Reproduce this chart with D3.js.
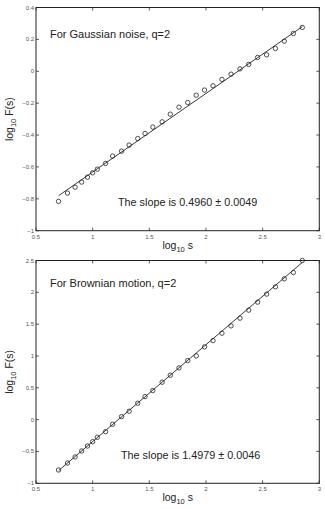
<!DOCTYPE html>
<html>
<head>
<meta charset="utf-8">
<script src="https://cdn.jsdelivr.net/npm/d3@7/dist/d3.min.js"></script>
<style>
  html, body { margin: 0; padding: 0; background: #fff; }
  svg { display: block; font-family: "Liberation Sans", Arial, sans-serif; }
  .tick-label { font-size: 6px; fill: #555; }
</style>
</head>
<body>
<svg id="chart" width="325" height="509"></svg>
<script>
// log10 s, shared by both panels
const logS = [0.699, 0.778, 0.845, 0.903, 0.954, 1.000, 1.041, 1.114, 1.176, 1.255,
              1.322, 1.398, 1.462, 1.531, 1.613, 1.685, 1.762, 1.839, 1.914, 1.987,
              2.062, 2.141, 2.221, 2.300, 2.377, 2.456, 2.535, 2.613, 2.691, 2.771, 2.850];

// log10 F(s), Gaussian noise
const gaussF = [-0.816, -0.764, -0.727, -0.695, -0.664, -0.637, -0.614, -0.578, -0.532, -0.501,
                -0.463, -0.422, -0.390, -0.350, -0.317, -0.269, -0.225, -0.196, -0.150, -0.118,
                -0.091, -0.051, -0.018, 0.015, 0.043, 0.087, 0.103, 0.143, 0.189, 0.237, 0.275];

// log10 F(s), Brownian motion
const brownF = [-0.791, -0.681, -0.586, -0.492, -0.414, -0.346, -0.277, -0.189, -0.072, 0.047,
                0.132, 0.258, 0.362, 0.456, 0.588, 0.698, 0.813, 0.928, 1.002, 1.143,
                1.242, 1.358, 1.473, 1.594, 1.720, 1.846, 1.972, 2.087, 2.212, 2.311, 2.500];

// fitted lines (end points)
const gaussFit = [[0.70, -0.780], [2.85, 0.280]];
const brownFit = [[0.70, -0.800], [2.85, 2.470]];

const xTicks = [0.5, 1, 1.5, 2, 2.5, 3];
const gaussYTicks = [-1, -0.8, -0.6, -0.4, -0.2, 0, 0.2, 0.4];
const brownYTicks = [-1, -0.5, 0, 0.5, 1, 1.5, 2, 2.5];

const panels = [
  { top: 7.5, bottom: 230.7, y: gaussF, fit: gaussFit, yDomain: [-1, 0.4], yTicks: gaussYTicks,
    title: 'For Gaussian noise, q=2', titleY: 38,
    note: 'The slope is 0.4960 \u00b1 0.0049', noteX: 118, noteY: 206 },
  { top: 260.5, bottom: 483.3, y: brownF, fit: brownFit, yDomain: [-1, 2.5], yTicks: brownYTicks,
    title: 'For Brownian motion, q=2', titleY: 287,
    note: 'The slope is 1.4979 \u00b1 0.0046', noteX: 121, noteY: 459 },
];

const LEFT = 36, RIGHT = 319.3, TICK = 3;
const svg = d3.select('#chart');
const fmt = v => String(v).replace('-', '\u2212');

panels.forEach(p => {
  const x = d3.scaleLinear().domain([0.5, 3]).range([LEFT, RIGHT]);
  const y = d3.scaleLinear().domain(p.yDomain).range([p.bottom, p.top]);
  const g = svg.append('g');

  // ticks on all four sides, pointing inward
  xTicks.forEach(t => {
    g.append('line').attr('x1', x(t)).attr('x2', x(t)).attr('y1', p.bottom).attr('y2', p.bottom - TICK)
      .attr('stroke', '#333').attr('stroke-width', 0.8);
    g.append('line').attr('x1', x(t)).attr('x2', x(t)).attr('y1', p.top).attr('y2', p.top + TICK)
      .attr('stroke', '#333').attr('stroke-width', 0.8);
    g.append('text').attr('class', 'tick-label')
      .attr('x', x(t)).attr('y', p.bottom + 8).attr('text-anchor', 'middle').text(fmt(t));
  });
  p.yTicks.forEach(t => {
    g.append('line').attr('x1', LEFT).attr('x2', LEFT + TICK).attr('y1', y(t)).attr('y2', y(t))
      .attr('stroke', '#333').attr('stroke-width', 0.8);
    g.append('line').attr('x1', RIGHT).attr('x2', RIGHT - TICK).attr('y1', y(t)).attr('y2', y(t))
      .attr('stroke', '#333').attr('stroke-width', 0.8);
    g.append('text').attr('class', 'tick-label')
      .attr('x', LEFT - 2).attr('y', y(t) + 2).attr('text-anchor', 'end').text(fmt(t));
  });

  // box
  g.append('rect').attr('x', LEFT).attr('y', p.top)
    .attr('width', RIGHT - LEFT).attr('height', p.bottom - p.top)
    .attr('fill', 'none').attr('stroke', '#222').attr('stroke-width', 1);

  // fit line
  g.append('path').datum(p.fit)
    .attr('d', d3.line().x(d => x(d[0])).y(d => y(d[1])))
    .attr('fill', 'none').attr('stroke', '#222').attr('stroke-width', 0.9);

  // data circles
  g.selectAll('circle').data(logS.map((s, i) => [s, p.y[i]])).join('circle')
    .attr('cx', d => x(d[0])).attr('cy', d => y(d[1])).attr('r', 2.2)
    .attr('fill', 'none').attr('stroke', '#222').attr('stroke-width', 0.8);

  // annotations
  g.append('text').attr('x', 50).attr('y', p.titleY)
    .attr('font-size', 11).attr('fill', '#222').text(p.title);
  g.append('text').attr('x', p.noteX).attr('y', p.noteY)
    .attr('font-size', 10.8).attr('fill', '#222').text(p.note);

  // axis labels
  const xl = g.append('text').attr('x', (LEFT + RIGHT) / 2).attr('y', p.bottom + 18)
    .attr('text-anchor', 'middle').attr('font-size', 10.5).attr('fill', '#222');
  xl.append('tspan').text('log');
  xl.append('tspan').attr('font-size', 7.5).attr('dy', 3).text('10');
  xl.append('tspan').attr('dy', -3).text(' s');

  const cy = (p.top + p.bottom) / 2;
  const yl = g.append('text').attr('transform', `translate(13,${cy}) rotate(-90)`)
    .attr('text-anchor', 'middle').attr('font-size', 10.5).attr('fill', '#222');
  yl.append('tspan').text('log');
  yl.append('tspan').attr('font-size', 7.5).attr('dy', 3).text('10');
  yl.append('tspan').attr('dy', -3).text(' F(s)');
});
</script>
</body>
</html>
